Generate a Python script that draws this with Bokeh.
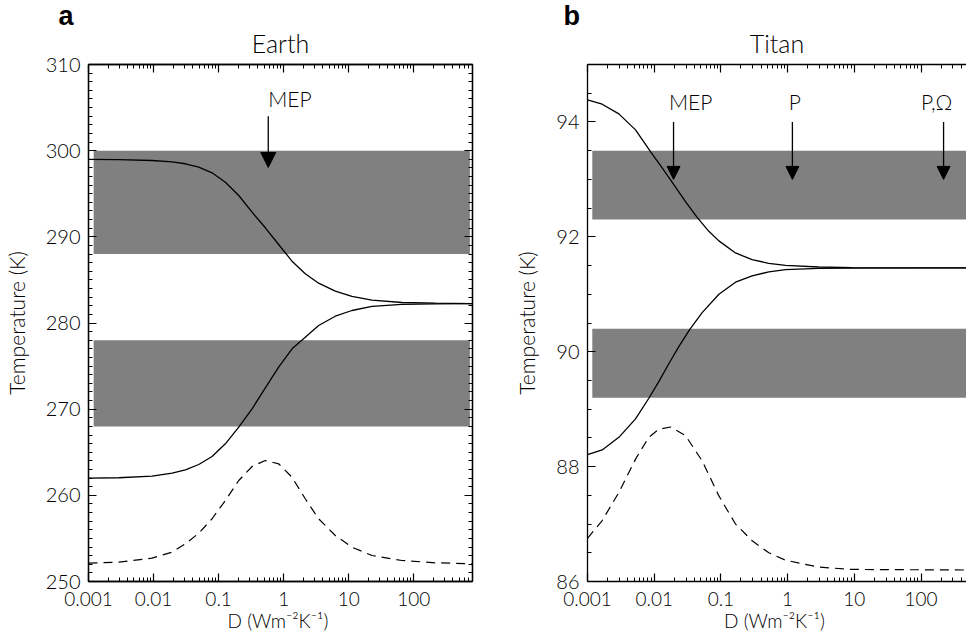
from bokeh.plotting import figure
from bokeh.layouts import row
from bokeh.models import (Range1d, LogAxis, LinearAxis, FixedTicker, Arrow,
                          NormalHead, Label, Title, CustomJSTickFormatter)
from bokeh.embed import file_html
from bokeh.resources import INLINE

# ---------------- data: Earth (panel a) ----------------
earth_D = [0.001, 0.00292, 0.0095, 0.0193, 0.0309, 0.0495, 0.0794, 0.127,
           0.204, 0.327, 0.523, 0.838, 1.345, 2.15, 3.45, 6.22, 11.2, 22.8,
           65.9, 214, 800]
earth_T_warm = [298.98, 298.96, 298.86, 298.71, 298.48, 298.08, 297.43, 296.34,
                294.80, 292.86, 291.05, 289.11, 287.17, 285.71, 284.62, 283.69,
                283.08, 282.65, 282.38, 282.30, 282.26]
earth_T_cold = [262.0, 262.04, 262.22, 262.57, 262.96, 263.58, 264.51, 265.98,
                267.91, 270.04, 272.48, 274.87, 277.0, 278.35, 279.71, 280.79,
                281.45, 281.92, 282.15, 282.23, 282.26]
earth_entropy = [252.13, 252.25, 252.71, 253.41, 254.37, 255.6, 257.28, 259.4,
                 261.72, 263.35, 264.04, 263.66, 262.1, 259.6, 257.28, 255.34,
                 253.98, 253.02, 252.44, 252.17, 252.05]
earth_band_bottom = [288, 268]
earth_band_top = [300, 278]
earth_band_D = [0.0012, 730]
earth_arrow_D = [0.58]
earth_arrow_text = ["MEP"]
earth_yticks = [250, 260, 270, 280, 290, 300, 310]

# ---------------- data: Titan (panel b) ----------------
titan_D_warm = [0.001, 0.00166, 0.00295, 0.00525, 0.0088, 0.01317, 0.01969,
                0.02945, 0.04406, 0.06592, 0.0933, 0.1656, 0.294, 0.523, 0.931,
                2.94, 9.29, 481]
titan_T_warm = [94.384, 94.309, 94.14, 93.862, 93.484, 93.20, 92.909, 92.613,
                92.34, 92.096, 91.93, 91.719, 91.603, 91.539, 91.504, 91.475,
                91.463, 91.458]
titan_D_cold = [0.001, 0.00166, 0.00295, 0.00525, 0.00831, 0.01172, 0.01656,
                0.02339, 0.0338, 0.0524, 0.0933, 0.1656, 0.294, 0.523, 0.931,
                2.94, 9.29, 481]
titan_T_cold = [88.21, 88.29, 88.51, 88.83, 89.19, 89.48, 89.79, 90.09, 90.38,
                90.68, 91.0, 91.21, 91.32, 91.39, 91.43, 91.45, 91.456, 91.458]
titan_D_ent = [0.001, 0.00166, 0.00295, 0.00525, 0.0083, 0.0117, 0.0175,
               0.02945, 0.0524, 0.0933, 0.1656, 0.294, 0.523, 0.931, 2.94,
               9.29, 481]
titan_entropy = [86.75, 87.06, 87.55, 88.13, 88.51, 88.65, 88.69, 88.54, 88.10,
                 87.49, 87.0, 86.71, 86.50, 86.37, 86.25, 86.21, 86.20]
titan_band_bottom = [92.3, 89.2]
titan_band_top = [93.5, 90.4]
titan_band_D = [0.00118, 481]
titan_arrow_D = [0.0195, 1.18, 218]
titan_label_D = [0.0166, 1.04, 100]
titan_arrow_text = ["MEP", "P", "P,\u03a9"]
titan_yticks = [86, 88, 90, 92, 94]

x_major = [0.001, 0.01, 0.1, 1, 10, 100]
x_labels = ["0.001", "0.01", "0.1", "1", "10", "100"]

FONT = "Lato Light"
GRAY = "#808080"


def decorate(p, yticks, yminor, right_axis=True, outline=True):
    xminor = [m * d for d in [0.001, 0.01, 0.1, 1, 10, 100] for m in range(2, 10)]
    xt = FixedTicker(ticks=x_major, minor_ticks=xminor)
    yt = FixedTicker(ticks=yticks, minor_ticks=yminor)

    xa = p.xaxis[0]
    xa.ticker = xt
    xa.formatter = CustomJSTickFormatter(
        args=dict(majors=x_major, names=x_labels),
        code="""
        for (let i = 0; i < majors.length; i++) {
            if (Math.abs(Math.log10(majors[i]) - Math.log10(tick)) < 1e-6) return names[i];
        }
        return '';
        """)
    xa.axis_label = "D  (Wm\u207b\u00b2K\u207b\u00b9)"
    ya = p.yaxis[0]
    ya.ticker = yt
    ya.axis_label = "Temperature (K)"

    top = LogAxis(ticker=xt, major_label_text_font_size="1px",
                  major_label_text_alpha=0, major_label_standoff=0)
    p.add_layout(top, "above")
    axes = [xa, ya, top]
    if right_axis:
        ra = LinearAxis(ticker=yt, major_label_text_font_size="1px",
                        major_label_text_alpha=0, major_label_standoff=0)
        p.add_layout(ra, "right")
        axes.append(ra)
    for a in axes:
        a.major_tick_in = 8
        a.major_tick_out = 0
        a.minor_tick_in = 4
        a.minor_tick_out = 0
        a.axis_line_width = 1.3
        a.major_tick_line_width = 1.2
        a.minor_tick_line_width = 1.0
        a.axis_line_color = "black"
        a.major_tick_line_color = "black"
        a.minor_tick_line_color = "black"
        a.major_label_text_font = FONT
        a.major_label_text_color = "black"
        a.axis_label_text_font = FONT
        a.axis_label_text_font_style = "normal"
        a.axis_label_text_color = "black"
    xa.major_label_text_font_size = "19px"
    xa.major_label_standoff = 10
    xa.axis_label_text_font_size = "19px"
    xa.axis_label_standoff = 0
    ya.major_label_text_font_size = "20px"
    ya.major_label_standoff = 8
    ya.axis_label_text_font_size = "21px"
    ya.axis_label_standoff = 14
    p.xgrid.visible = False
    p.ygrid.visible = False
    p.outline_line_color = "black" if outline else None
    p.outline_line_width = 1.3


def titles(p, letter, name, letter_dx):
    p.add_layout(Title(text=name, align="center", text_font=FONT,
                       text_font_style="normal", text_font_size="25px",
                       text_color="black", standoff=13), "above")
    p.add_layout(Title(text=letter, align="left", text_font="Liberation Sans",
                       text_font_style="bold", text_font_size="27px",
                       text_color="black", offset=letter_dx, standoff=-23),
                 "above")


# ---------------- panel a ----------------
pa = figure(width=487, height=638, x_axis_type="log",
            x_range=Range1d(0.001, 800), y_range=Range1d(250, 310),
            output_backend="svg", toolbar_location=None,
            min_border_left=88, min_border_right=15, min_border_top=64,
            min_border_bottom=57, background_fill_color="white",
            border_fill_color="white")
pa.quad(left=[earth_band_D[0]] * 2, right=[earth_band_D[1]] * 2,
        bottom=earth_band_bottom, top=earth_band_top,
        fill_color=GRAY, line_color=None)
pa.line(earth_D, earth_T_warm, line_color="black", line_width=1.3)
pa.line(earth_D, earth_T_cold, line_color="black", line_width=1.3)
pa.line(earth_D, earth_entropy, line_color="black", line_width=1.2,
        line_dash="9 6")
for d, t in zip(earth_arrow_D, earth_arrow_text):
    pa.add_layout(Arrow(x_start=d, y_start=304.0, x_end=d, y_end=298.05,
                        line_width=1.3, line_color="black",
                        end=NormalHead(size=15, fill_color="black",
                                       line_color="black")))
    pa.add_layout(Label(x=d, y=306.0, text=t, text_font=FONT,
                        text_font_size="21px", text_align="left",
                        text_baseline="alphabetic", text_color="black"))
decorate(pa, earth_yticks, [v for v in range(250, 311) if v % 10])
titles(pa, "a", "Earth", -30)

# ---------------- panel b ----------------
pb = figure(width=479, height=638, x_axis_type="log",
            x_range=Range1d(0.001, 481), y_range=Range1d(86, 95),
            output_backend="svg", toolbar_location=None,
            min_border_left=100, min_border_right=0, min_border_top=64,
            min_border_bottom=57, background_fill_color="white",
            border_fill_color="white")
pb.quad(left=[titan_band_D[0]] * 2, right=[titan_band_D[1]] * 2,
        bottom=titan_band_bottom, top=titan_band_top,
        fill_color=GRAY, line_color=None)
pb.line(titan_D_warm, titan_T_warm, line_color="black", line_width=1.3)
pb.line(titan_D_cold, titan_T_cold, line_color="black", line_width=1.3)
pb.line(titan_D_ent, titan_entropy, line_color="black", line_width=1.2,
        line_dash="9 6")
for d, ld, t in zip(titan_arrow_D, titan_label_D, titan_arrow_text):
    pb.add_layout(Arrow(x_start=d, y_start=94.0, x_end=d, y_end=93.0,
                        line_width=1.3, line_color="black",
                        end=NormalHead(size=13, fill_color="black",
                                       line_color="black")))
    pb.add_layout(Label(x=ld, y=94.36, text=t, text_font=FONT,
                        text_font_size="21px", text_align="left",
                        text_baseline="alphabetic", text_color="black"))
decorate(pb, titan_yticks, [86.5 + 0.5 * i for i in range(18) if (86.5 + 0.5 * i) % 2],
         right_axis=False, outline=False)
titles(pb, "b", "Titan", -24)

layout = row(pa, pb)
open("out.html", "w").write(file_html(layout, INLINE))
